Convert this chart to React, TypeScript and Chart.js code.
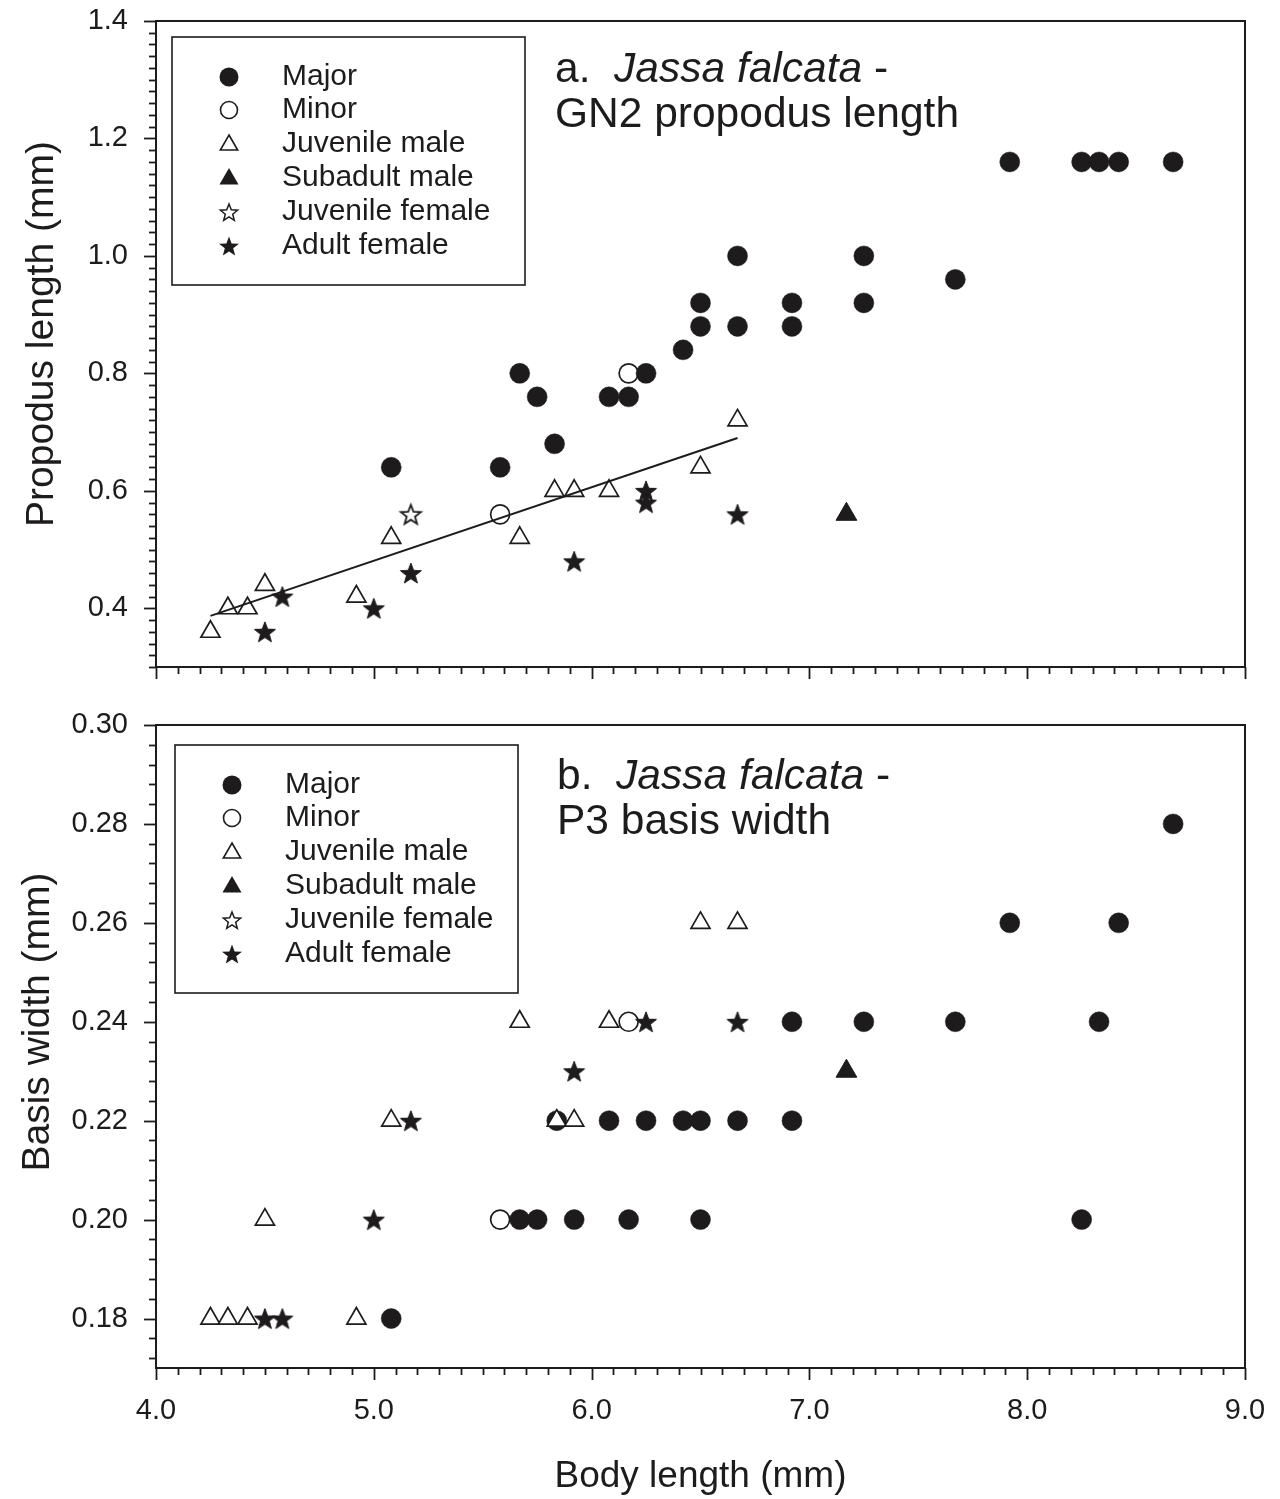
import React, { useEffect, useRef } from 'react';
import { Chart, registerables } from 'chart.js';

Chart.register(...registerables);

const INK = '#1d1b1c';
const FONT = '"Liberation Sans", Arial, Helvetica, sans-serif';

// ---------- shared x axis (body length, mm) ----------
const bodyTicks = [4.0, 5.0, 6.0, 7.0, 8.0, 9.0];

// ---------- panel a: GN2 propodus length ----------
const aYTicks = [0.4, 0.6, 0.8, 1.0, 1.2, 1.4];
const aMajorX = [5.08, 5.58, 5.67, 5.75, 5.83, 6.08, 6.17, 6.25, 6.42, 6.5, 6.5, 6.67, 6.67, 6.92, 6.92, 7.25, 7.25, 7.67, 7.92, 8.25, 8.33, 8.42, 8.67];
const aMajorY = [0.64, 0.64, 0.8, 0.76, 0.68, 0.76, 0.76, 0.8, 0.84, 0.92, 0.88, 1.0, 0.88, 0.92, 0.88, 1.0, 0.92, 0.96, 1.16, 1.16, 1.16, 1.16, 1.16];
const aMinorX = [5.58, 6.17];
const aMinorY = [0.56, 0.8];
const aJuvMaleX = [4.25, 4.33, 4.42, 4.5, 4.92, 5.08, 5.67, 5.83, 5.92, 6.08, 6.5, 6.67];
const aJuvMaleY = [0.36, 0.4, 0.4, 0.44, 0.42, 0.52, 0.52, 0.6, 0.6, 0.6, 0.64, 0.72];
const aSubMaleX = [7.17];
const aSubMaleY = [0.56];
const aJuvFemX = [5.17];
const aJuvFemY = [0.56];
const aAdultFemX = [4.5, 4.58, 5.0, 5.17, 5.92, 6.25, 6.25, 6.67];
const aAdultFemY = [0.36, 0.42, 0.4, 0.46, 0.48, 0.6, 0.58, 0.56];
const aFitX = [4.25, 6.67];
const aFitY = [0.387, 0.69];

// ---------- panel b: P3 basis width ----------
const bYTicks = [0.18, 0.2, 0.22, 0.24, 0.26, 0.28, 0.3];
const bMajorX = [5.08, 5.67, 5.75, 5.92, 6.17, 6.5, 8.25, 5.84, 6.08, 6.25, 6.42, 6.5, 6.67, 6.92, 6.92, 7.25, 7.67, 8.33, 7.92, 8.42, 8.67];
const bMajorY = [0.18, 0.2, 0.2, 0.2, 0.2, 0.2, 0.2, 0.22, 0.22, 0.22, 0.22, 0.22, 0.22, 0.22, 0.24, 0.24, 0.24, 0.24, 0.26, 0.26, 0.28];
const bMinorX = [5.58, 6.17];
const bMinorY = [0.2, 0.24];
const bJuvMaleX = [4.25, 4.33, 4.42, 4.92, 4.5, 5.08, 5.84, 5.92, 5.67, 6.08, 6.5, 6.67];
const bJuvMaleY = [0.18, 0.18, 0.18, 0.18, 0.2, 0.22, 0.22, 0.22, 0.24, 0.24, 0.26, 0.26];
const bSubMaleX = [7.17];
const bSubMaleY = [0.23];
const bJuvFemX: number[] = [];
const bJuvFemY: number[] = [];
const bAdultFemX = [4.5, 4.58, 5.0, 5.17, 5.92, 6.25, 6.67];
const bAdultFemY = [0.18, 0.18, 0.2, 0.22, 0.23, 0.24, 0.24];

const legendLabels = ['Major', 'Minor', 'Juvenile male', 'Subadult male', 'Juvenile female', 'Adult female'];
const legendKinds = ['major', 'minor', 'juvMale', 'subMale', 'juvFem', 'adultFem'];

const pts = (xs: number[], ys: number[]) => xs.map((x, i) => ({ x, y: ys[i] }));

function starPath(ctx: CanvasRenderingContext2D, cx: number, cy: number, R: number, r: number) {
  ctx.beginPath();
  for (let i = 0; i < 10; i++) {
    const ang = -Math.PI / 2 + (i * Math.PI) / 5;
    const rad = i % 2 === 0 ? R : r;
    const px = cx + Math.cos(ang) * rad;
    const py = cy + Math.sin(ang) * rad;
    if (i === 0) ctx.moveTo(px, py);
    else ctx.lineTo(px, py);
  }
  ctx.closePath();
}

function starImage(R: number, r: number, filled: boolean, lw: number) {
  const size = Math.ceil(2 * R + 2 * lw + 4);
  const c = document.createElement('canvas');
  c.width = size;
  c.height = size;
  const ctx = c.getContext('2d')!;
  starPath(ctx, size / 2, size / 2 + R * 0.095, R, r);
  ctx.lineJoin = 'miter';
  ctx.fillStyle = filled ? INK : '#ffffff';
  ctx.fill();
  ctx.strokeStyle = INK;
  ctx.lineWidth = lw;
  ctx.stroke();
  return c;
}

function trianglePath(ctx: CanvasRenderingContext2D, cx: number, cy: number, r: number) {
  ctx.beginPath();
  for (let i = 0; i < 3; i++) {
    const ang = -Math.PI / 2 + (i * 2 * Math.PI) / 3;
    const px = cx + Math.cos(ang) * r;
    const py = cy + Math.sin(ang) * r;
    if (i === 0) ctx.moveTo(px, py);
    else ctx.lineTo(px, py);
  }
  ctx.closePath();
}

function drawSymbol(ctx: CanvasRenderingContext2D, kind: string, x: number, y: number) {
  ctx.save();
  ctx.strokeStyle = INK;
  ctx.fillStyle = INK;
  ctx.lineWidth = 1.6;
  if (kind === 'major') {
    ctx.beginPath();
    ctx.arc(x, y, 9.5, 0, Math.PI * 2);
    ctx.fill();
  } else if (kind === 'minor') {
    ctx.beginPath();
    ctx.arc(x, y, 8.5, 0, Math.PI * 2);
    ctx.fillStyle = '#fff';
    ctx.fill();
    ctx.stroke();
  } else if (kind === 'juvMale') {
    trianglePath(ctx, x, y + 1, 10);
    ctx.fillStyle = '#fff';
    ctx.fill();
    ctx.stroke();
  } else if (kind === 'subMale') {
    trianglePath(ctx, x, y + 1, 11);
    ctx.fill();
  } else if (kind === 'juvFem') {
    starPath(ctx, x, y + 1, 9, 3.9);
    ctx.fillStyle = '#fff';
    ctx.fill();
    ctx.lineWidth = 1.5;
    ctx.stroke();
  } else if (kind === 'adultFem') {
    starPath(ctx, x, y + 1, 10.5, 4.4);
    ctx.fill();
  }
  ctx.restore();
}

type Deco = {
  legendBox: [number, number, number, number];
  legendMarkerX: number;
  legendTextX: number;
  legendRows: number[];
  titleX: number;
  titleLines: [number, number];
  letter: string;
  subtitle: string;
  yTitle: string;
  yTitlePos: [number, number];
  yMin: number;
  yMax: number;
  yMinorStep: number;
  yMajorStep: number;
};

const decoPlugin = {
  id: 'deco',
  afterDraw(chart: any, _args: any, o: Deco) {
    const { ctx, chartArea: a, scales } = chart;
    const xs = scales.x;
    const ys = scales.y;
    ctx.save();
    ctx.strokeStyle = INK;
    ctx.lineCap = 'butt';
    // tick marks (outside)
    ctx.lineWidth = 1.8;
    for (let i = 0; ; i++) {
      const v = o.yMax - i * o.yMinorStep;
      if (v < o.yMin - 1e-9) break;
      const q = v / o.yMajorStep;
      const major = Math.abs(q - Math.round(q)) < 1e-6;
      const py = Math.round(ys.getPixelForValue(v)) + 0.5;
      ctx.beginPath();
      ctx.moveTo(a.left - (major ? 12 : 7), py);
      ctx.lineTo(a.left, py);
      ctx.stroke();
    }
    for (let i = 0; i <= 50; i++) {
      const v = 4 + i * 0.1;
      const major = i % 10 === 0;
      const px = Math.round(xs.getPixelForValue(v)) + 0.5;
      ctx.beginPath();
      ctx.moveTo(px, a.bottom);
      ctx.lineTo(px, a.bottom + (major ? 12 : 7));
      ctx.stroke();
    }
    // frame
    ctx.lineWidth = 2;
    ctx.strokeRect(a.left, a.top, a.right - a.left, a.bottom - a.top);

    // y-axis title
    ctx.save();
    ctx.translate(o.yTitlePos[0], o.yTitlePos[1]);
    ctx.rotate(-Math.PI / 2);
    ctx.fillStyle = INK;
    ctx.font = `39px ${FONT}`;
    ctx.textAlign = 'center';
    ctx.textBaseline = 'middle';
    ctx.fillText(o.yTitle, 0, 0);
    ctx.restore();

    // legend box
    const [l, t, r, b] = o.legendBox;
    ctx.lineWidth = 1.6;
    ctx.strokeRect(l, t, r - l, b - t);
    ctx.fillStyle = INK;
    ctx.textBaseline = 'middle';
    ctx.textAlign = 'left';
    ctx.font = `30px ${FONT}`;
    legendLabels.forEach((lab, i) => {
      drawSymbol(ctx, legendKinds[i], o.legendMarkerX, o.legendRows[i]);
      ctx.fillStyle = INK;
      ctx.fillText(lab, o.legendTextX, o.legendRows[i]);
    });

    // panel title
    ctx.textBaseline = 'alphabetic';
    const size = 42.5;
    const segs = [
      { t: `${o.letter}.  `, it: false },
      { t: 'Jassa falcata', it: true },
      { t: ' -', it: false },
    ];
    let x = o.titleX;
    for (const s of segs) {
      ctx.font = `${s.it ? 'italic ' : ''}${size}px ${FONT}`;
      ctx.fillText(s.t, x, o.titleLines[0]);
      x += ctx.measureText(s.t).width;
    }
    ctx.font = `${size}px ${FONT}`;
    ctx.fillText(o.subtitle, o.titleX, o.titleLines[1]);
    ctx.restore();
  },
};

type PanelSpec = {
  height: number;
  padTop: number;
  xAxisHeight: number;
  showX: boolean;
  yMin: number;
  yMax: number;
  yTicks: number[];
  yDec: number;
  major: [number[], number[]];
  minor: [number[], number[]];
  juvMale: [number[], number[]];
  subMale: [number[], number[]];
  juvFem: [number[], number[]];
  adultFem: [number[], number[]];
  fit?: [number[], number[]];
  deco: Deco;
};

function zeroPadding(s: any) {
  s.paddingTop = 0;
  s.paddingBottom = 0;
  s.paddingLeft = 0;
  s.paddingRight = 0;
}

function buildConfig(p: PanelSpec): any {
  const starFilled = starImage(11, 4.6, true, 1);
  const starOpen = starImage(10.5, 4.4, false, 1.8);
  const datasets: any[] = [];
  if (p.fit) {
    datasets.push({
      label: 'fit',
      data: pts(p.fit[0], p.fit[1]),
      showLine: true,
      borderColor: INK,
      borderWidth: 2,
      pointRadius: 0,
      fill: false,
      order: 0,
    });
  }
  datasets.push(
    {
      label: 'Juvenile male',
      data: pts(p.juvMale[0], p.juvMale[1]),
      pointStyle: 'triangle',
      pointRadius: 11,
      backgroundColor: '#ffffff',
      borderColor: INK,
      borderWidth: 1.7,
      order: 1,
    },
    {
      label: 'Adult female',
      data: pts(p.adultFem[0], p.adultFem[1]),
      pointStyle: starFilled,
      pointRadius: 10,
      order: 2,
    },
    {
      label: 'Juvenile female',
      data: pts(p.juvFem[0], p.juvFem[1]),
      pointStyle: starOpen,
      pointRadius: 10,
      order: 3,
    },
    {
      label: 'Subadult male',
      data: pts(p.subMale[0], p.subMale[1]),
      pointStyle: 'triangle',
      pointRadius: 12,
      backgroundColor: INK,
      borderColor: INK,
      borderWidth: 1,
      order: 4,
    },
    {
      label: 'Major',
      data: pts(p.major[0], p.major[1]),
      pointStyle: 'circle',
      pointRadius: 10,
      backgroundColor: INK,
      borderColor: INK,
      borderWidth: 0.5,
      order: 5,
    },
    {
      label: 'Minor',
      data: pts(p.minor[0], p.minor[1]),
      pointStyle: 'circle',
      pointRadius: 9.5,
      backgroundColor: '#ffffff',
      borderColor: INK,
      borderWidth: 1.7,
      order: 6,
    }
  );

  return {
    type: 'scatter',
    data: { datasets },
    plugins: [decoPlugin],
    options: {
      responsive: false,
      animation: false,
      devicePixelRatio: 1,
      layout: { padding: { top: p.padTop, right: 35, left: 0, bottom: 0 } },
      plugins: {
        legend: { display: false },
        tooltip: { enabled: false },
        deco: p.deco,
      },
      scales: {
        x: {
          type: 'linear',
          min: 4,
          max: 9,
          afterBuildTicks: (s: any) => {
            s.ticks = bodyTicks.map((v) => ({ value: v }));
          },
          afterFit: (s: any) => {
            s.height = p.xAxisHeight;
            zeroPadding(s);
          },
          grid: { display: false, drawTicks: false },
          border: { display: false },
          ticks: {
            display: p.showX,
            autoSkip: false,
            maxRotation: 0,
            padding: 26,
            color: INK,
            font: { family: FONT, size: 29 },
            callback: (v: any) => Number(v).toFixed(1),
          },
          title: {
            display: p.showX,
            text: 'Body length (mm)',
            color: INK,
            font: { family: FONT, size: 37 },
            padding: { top: 0, bottom: 0 },
          },
        },
        y: {
          type: 'linear',
          min: p.yMin,
          max: p.yMax,
          afterBuildTicks: (s: any) => {
            s.ticks = p.yTicks.map((v) => ({ value: v }));
          },
          afterFit: (s: any) => {
            s.width = 156;
            zeroPadding(s);
          },
          grid: { display: false, drawTicks: false },
          border: { display: false },
          ticks: {
            autoSkip: false,
            padding: 28,
            color: INK,
            font: { family: FONT, size: 29 },
            callback: (v: any) => Number(v).toFixed(p.yDec),
          },
          title: { display: false },
        },
      },
    },
  };
}

const panelA: PanelSpec = {
  height: 700,
  padTop: 21,
  xAxisHeight: 33,
  showX: false,
  yMin: 0.3,
  yMax: 1.4,
  yTicks: aYTicks,
  yDec: 1,
  major: [aMajorX, aMajorY],
  minor: [aMinorX, aMinorY],
  juvMale: [aJuvMaleX, aJuvMaleY],
  subMale: [aSubMaleX, aSubMaleY],
  juvFem: [aJuvFemX, aJuvFemY],
  adultFem: [aAdultFemX, aAdultFemY],
  fit: [aFitX, aFitY],
  deco: {
    legendBox: [172, 37, 525, 285],
    legendMarkerX: 229,
    legendTextX: 282,
    legendRows: [77, 110, 144, 178, 212, 246],
    titleX: 555,
    titleLines: [82, 127],
    letter: 'a',
    subtitle: 'GN2 propodus length',
    yTitle: 'Propodus length (mm)',
    yTitlePos: [42, 334],
    yMin: 0.3,
    yMax: 1.4,
    yMinorStep: 0.02,
    yMajorStep: 0.2,
  },
};

const panelB: PanelSpec = {
  height: 799,
  padTop: 25,
  xAxisHeight: 131,
  showX: true,
  yMin: 0.17,
  yMax: 0.3,
  yTicks: bYTicks,
  yDec: 2,
  major: [bMajorX, bMajorY],
  minor: [bMinorX, bMinorY],
  juvMale: [bJuvMaleX, bJuvMaleY],
  subMale: [bSubMaleX, bSubMaleY],
  juvFem: [bJuvFemX, bJuvFemY],
  adultFem: [bAdultFemX, bAdultFemY],
  deco: {
    legendBox: [175, 45, 518, 293],
    legendMarkerX: 232,
    legendTextX: 285,
    legendRows: [85, 118, 152, 186, 220, 254],
    titleX: 557,
    titleLines: [89, 134],
    letter: 'b',
    subtitle: 'P3 basis width',
    yTitle: 'Basis width (mm)',
    yTitlePos: [38, 322],
    yMin: 0.17,
    yMax: 0.3,
    yMinorStep: 0.004,
    yMajorStep: 0.02,
  },
};

function Panel({ spec, top }: { spec: PanelSpec; top: number }) {
  const ref = useRef<HTMLCanvasElement | null>(null);
  useEffect(() => {
    if (!ref.current) return;
    const chart = new Chart(ref.current, buildConfig(spec));
    return () => chart.destroy();
  }, [spec]);
  return (
    <canvas
      ref={ref}
      width={1280}
      height={spec.height}
      style={{ position: 'absolute', left: 0, top, width: 1280, height: spec.height, display: 'block' }}
    />
  );
}

export default function App() {
  return (
    <div style={{ position: 'absolute', left: 0, top: 0, width: 1280, height: 1499, background: '#ffffff' }}>
      <Panel spec={panelA} top={0} />
      <Panel spec={panelB} top={700} />
    </div>
  );
}
